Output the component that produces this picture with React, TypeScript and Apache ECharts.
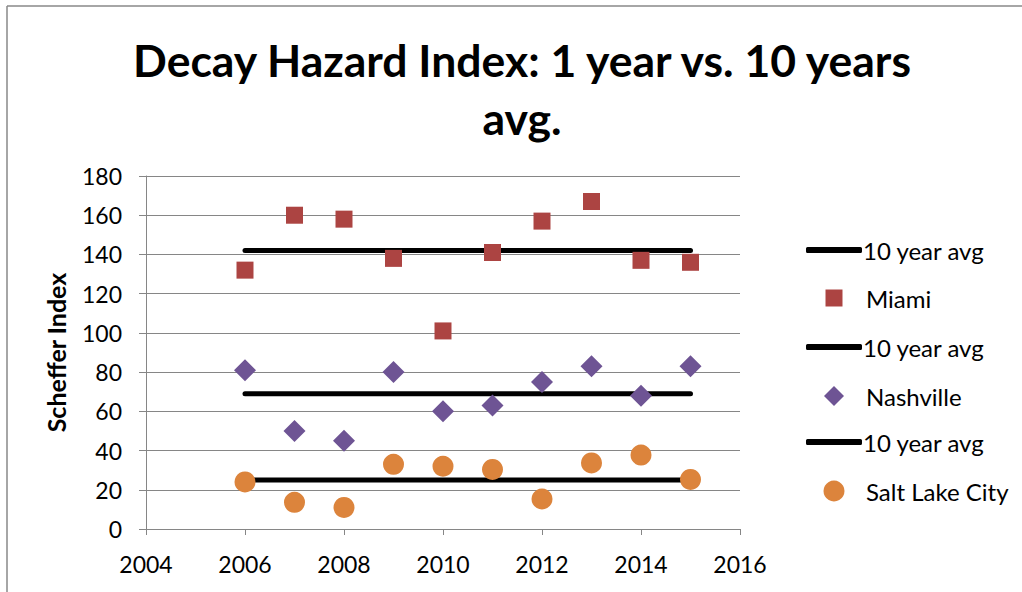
import React, { useEffect, useRef } from "react";
import * as echarts from "echarts";

const years = [2006, 2007, 2008, 2009, 2010, 2011, 2012, 2013, 2014, 2015];
const miami = [132, 160, 158, 138, 101, 141, 157, 167, 137, 136];
const nashville = [81, 50, 45, 80, 60, 63, 75, 83, 68, 83];
const saltLake = [24, 13.6, 11, 33, 32, 30.4, 15.3, 33.7, 37.7, 25.3];
const miamiAvg = 142;
const nashvilleAvg = 69;
const saltLakeAvg = 25;
const xTicks = { min: 2004, max: 2016, interval: 2 };
const yTicks = { min: 0, max: 180, interval: 20 };
const title = "Decay Hazard Index: 1 year vs. 10 years\navg.";

const FONT = "Lato";
const RED = "#AC4442";
const PURPLE = "#6E5494";
const ORANGE = "#DC843C";

export default function App() {
  const ref = useRef<HTMLDivElement>(null);
  useEffect(() => {
    document.body.style.margin = "0";
    const chart = echarts.init(ref.current!, undefined, { renderer: "svg" });
    const pts = (vals: number[]) => years.map((y, i) => [y, vals[i]]);
    const avgLine = (v: number) => [
      [years[0], v],
      [years[years.length - 1], v],
    ];
    const lineSeries = (v: number) => ({
      type: "line",
      name: "10 year avg",
      data: avgLine(v),
      symbol: "none",
      lineStyle: { color: "#000", width: 5, cap: "round" },
      itemStyle: { color: "#000" },
      z: 2,
    });
    const textStyle = { fontFamily: FONT, fontSize: 24, color: "#000" };
    const lineLegend = (top: number) => ({
      left: 806,
      top,
      itemWidth: 56,
      itemHeight: 6,
      selectedMode: false,
      padding: 0,
      textStyle: { ...textStyle, padding: [0, 0, 0, -4] },
      data: [{ name: "10 year avg", icon: "roundRect", itemStyle: { color: "#000" } }],
    });
    const markLegend = (top: number, name: string, icon: string, size: number, color: string) => ({
      left: 834 - size / 2,
      top,
      itemWidth: size,
      itemHeight: size,
      selectedMode: false,
      padding: 0,
      textStyle: { ...textStyle, padding: [0, 0, 0, 866 - (834 + size / 2) - 5] },
      data: [{ name, icon, itemStyle: { color, opacity: 1 } }],
    });
    const option = {
      animation: false,
      backgroundColor: "#fff",
      title: {
        text: title,
        left: 517,
        textAlign: "center",
        top: 25,
        padding: 5,
        textStyle: {
          fontFamily: FONT,
          fontWeight: "bold",
          fontSize: 44.5,
          color: "#000",
          lineHeight: 58,
        },
      },
      grid: { left: 146, right: 282, top: 176, bottom: 63, containLabel: false },
      xAxis: {
        type: "value",
        ...xTicks,
        axisLine: { show: true, lineStyle: { color: "#868686" } },
        axisTick: { show: true, length: 6, lineStyle: { color: "#868686" } },
        splitLine: { show: false },
        axisLabel: {
          fontFamily: FONT,
          fontSize: 23,
          color: "#000",
          margin: 23,
          formatter: (v: number) => String(v),
        },
      },
      yAxis: {
        type: "value",
        ...yTicks,
        name: "Scheffer Index",
        nameLocation: "middle",
        nameGap: 78,
        nameTextStyle: { fontFamily: FONT, fontWeight: "bold", fontSize: 25, color: "#000" },
        axisLine: { show: true, lineStyle: { color: "#868686" } },
        axisTick: { show: true, length: 7, lineStyle: { color: "#868686" } },
        splitLine: { show: true, lineStyle: { color: "#868686", width: 1 } },
        axisLabel: { fontFamily: FONT, fontSize: 23, color: "#000", margin: 24 },
      },
      legend: [
        lineLegend(238),
        markLegend(286, "Miami", "rect", 17, RED),
        lineLegend(335),
        markLegend(384, "Nashville", "diamond", 20, PURPLE),
        lineLegend(430),
        markLegend(479, "Salt Lake City", "circle", 21, ORANGE),
      ],
      graphic: [
        { type: "line", shape: { x1: 7, y1: 6, x2: 1022, y2: 6 }, style: { stroke: "#888", lineWidth: 1.5 } },
        { type: "line", shape: { x1: 7, y1: 6, x2: 7, y2: 592 }, style: { stroke: "#888", lineWidth: 1.5 } },
      ],
      series: [
        lineSeries(miamiAvg),
        {
          type: "scatter",
          name: "Miami",
          data: pts(miami),
          symbol: "rect",
          symbolSize: 17,
          itemStyle: { color: RED, opacity: 1 },
          z: 3,
        },
        lineSeries(nashvilleAvg),
        {
          type: "scatter",
          name: "Nashville",
          data: pts(nashville),
          symbol: "diamond",
          symbolSize: 22,
          itemStyle: { color: PURPLE, opacity: 1 },
          z: 3,
        },
        lineSeries(saltLakeAvg),
        {
          type: "scatter",
          name: "Salt Lake City",
          data: pts(saltLake),
          symbol: "circle",
          symbolSize: 21,
          itemStyle: { color: ORANGE, opacity: 1 },
          z: 3,
        },
      ],
    };
    chart.setOption(option as any);
    return () => chart.dispose();
  }, []);
  return <div ref={ref} style={{ width: 1022, height: 592 }} />;
}
